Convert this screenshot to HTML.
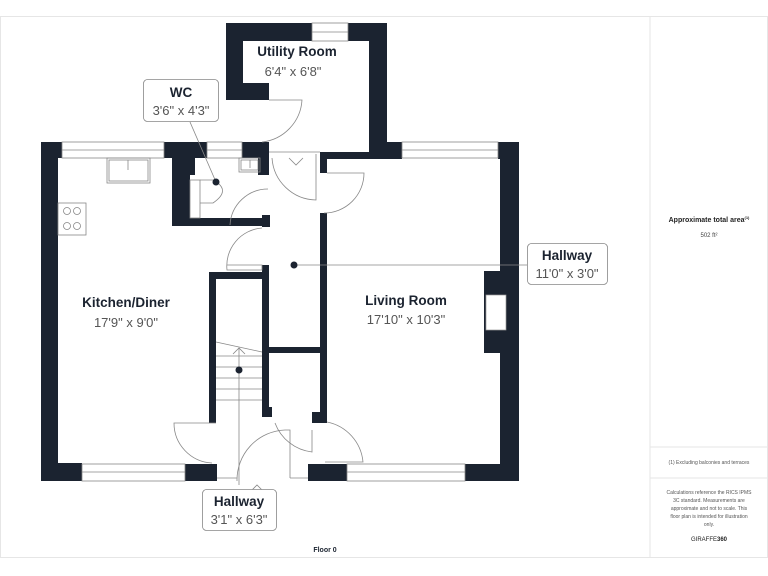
<!DOCTYPE html>
<html><head><meta charset="utf-8"><style>
html,body{margin:0;padding:0;background:#fff;}
svg{display:block;font-family:"Liberation Sans",sans-serif;}
</style></head><body>
<svg width="768" height="576" viewBox="0 0 768 576" xmlns="http://www.w3.org/2000/svg">
<rect x="0" y="0" width="768" height="576" fill="#fff"/>
<rect x="0.5" y="16.5" width="767" height="541" fill="none" stroke="#e6e6e6"/>
<line x1="650" y1="16" x2="650" y2="558" stroke="#e6e6e6"/>
<line x1="650" y1="447" x2="768" y2="447" stroke="#e6e6e6"/>
<line x1="650" y1="478" x2="768" y2="478" stroke="#e6e6e6"/>
<text x="709" y="222" font-size="7" font-weight="bold" text-anchor="middle" fill="#222">Approximate total area<tspan font-size="4" dy="-3">(1)</tspan></text>
<text x="709" y="237" font-size="6" text-anchor="middle" fill="#444">502 ft²</text>
<text x="709" y="464" font-size="5" text-anchor="middle" fill="#555">(1) Excluding balconies and terraces</text>
<g font-size="5" text-anchor="middle" fill="#555">
<text x="709" y="494">Calculations reference the RICS IPMS</text>
<text x="709" y="502">3C standard. Measurements are</text>
<text x="709" y="510">approximate and not to scale. This</text>
<text x="709" y="518">floor plan is intended for illustration</text>
<text x="709" y="526">only.</text>
</g>
<text x="709" y="541" font-size="6" text-anchor="middle" fill="#222">GIRAFFE<tspan font-weight="bold">360</tspan></text>

<g fill="#1b2330">
<!-- utility -->
<rect x="226" y="23" width="86" height="18"/>
<rect x="348" y="23" width="39" height="18"/>
<rect x="226" y="23" width="17" height="77"/>
<rect x="226" y="83" width="43" height="17"/>
<rect x="369" y="23" width="18" height="135"/>
<!-- kitchen -->
<rect x="41" y="142" width="21" height="16"/>
<rect x="41" y="142" width="17" height="339"/>
<rect x="41" y="463" width="41" height="18"/>
<rect x="164" y="142" width="43" height="16"/>
<rect x="172" y="142" width="23" height="33"/>
<rect x="172" y="142" width="18" height="84"/>
<rect x="172" y="218" width="98" height="8"/>
<rect x="262" y="215" width="8" height="12"/>
<rect x="242" y="142" width="27" height="16"/>
<rect x="258" y="142" width="11" height="33"/>
<!-- living top -->
<rect x="320" y="152" width="67" height="7"/>
<rect x="369" y="142" width="33" height="17"/>
<rect x="320" y="152" width="7" height="21"/>
<rect x="498" y="142" width="21" height="17"/>
<rect x="500" y="142" width="19" height="339"/>
<rect x="484" y="271" width="18" height="82"/>
<!-- hall -->
<rect x="320" y="213" width="7" height="210"/>
<rect x="262" y="265" width="7" height="152"/>
<rect x="262" y="407" width="10" height="10"/>
<rect x="312" y="412" width="15" height="11"/>
<rect x="262" y="347" width="65" height="6"/>
<rect x="209" y="272" width="7" height="151"/>
<rect x="209" y="272" width="60" height="7"/>
<!-- bottom -->
<rect x="185" y="464" width="32" height="17"/>
<rect x="308" y="464" width="39" height="17"/>
<rect x="465" y="464" width="54" height="17"/>
</g>
<rect x="486" y="295" width="20" height="35" fill="#fff" stroke="#999" stroke-width="0.7"/>

<g fill="none" stroke="#888" stroke-width="0.8">
<!-- windows -->
<rect x="312" y="23" width="36" height="18"/><line x1="312" y1="32" x2="348" y2="32"/>
<rect x="62" y="142" width="102" height="16"/><line x1="62" y1="150" x2="164" y2="150"/>
<rect x="207" y="142" width="35" height="16"/><line x1="207" y1="150" x2="242" y2="150"/>
<rect x="402" y="142" width="96" height="16"/><line x1="402" y1="150" x2="498" y2="150"/>
<rect x="82" y="464" width="103" height="17"/><line x1="82" y1="472" x2="185" y2="472"/>
<rect x="347" y="464" width="118" height="17"/><line x1="347" y1="472" x2="465" y2="472"/>
<line x1="269" y1="152" x2="320" y2="152"/>
<!-- furniture -->
<rect x="107" y="158" width="43" height="25"/><rect x="109" y="160" width="39" height="21"/><line x1="128" y1="160" x2="128" y2="170"/>
<rect x="58" y="203" width="28" height="32"/>
<circle cx="67" cy="211" r="3.5"/><circle cx="77" cy="211" r="3.5"/><circle cx="67" cy="226" r="3.5"/><circle cx="77" cy="226" r="3.5"/>
<rect x="239" y="158" width="21" height="14"/><rect x="241" y="160" width="17" height="10"/><line x1="250" y1="160" x2="250" y2="168"/>
<rect x="190" y="180" width="10" height="38"/><path d="M200 180 H213 Q232 190 213 203 H200"/>
<!-- doors -->
<path d="M269 100 H302 A45 45 0 0 1 262 142"/>
<path d="M272 158 A45 45 0 0 0 316 200 V154"/>
<path d="M327 173 H364 A40 40 0 0 1 324 213"/>
<path d="M230 225 A38 38 0 0 1 268 189"/>
<path d="M227 265 H262 V270 H227 A38 38 0 0 1 262 228"/>
<path d="M216 423 H174 A40 40 0 0 0 212 463"/>
<path d="M237 481 A50 50 0 0 1 285 430 H290 V478"/>
<path d="M275 423 A45 45 0 0 0 312 452 V430"/>
<path d="M327 422 A45 45 0 0 1 363 462 H325"/>
<line x1="290" y1="478" x2="308" y2="478"/><line x1="217" y1="478" x2="237" y2="478"/>
<!-- stairs -->
<line x1="216" y1="342" x2="262" y2="352"/>
<line x1="216" y1="356" x2="262" y2="356"/><line x1="216" y1="367" x2="262" y2="367"/>
<line x1="216" y1="378" x2="262" y2="378"/><line x1="216" y1="389" x2="262" y2="389"/>
<line x1="216" y1="400" x2="262" y2="400"/>
<line x1="239" y1="348" x2="239" y2="485"/>
<path d="M233 354 L239 348 L245 354"/>
<path d="M250 492 L257 485 L264 492"/>
<path d="M289 158 L296 165 L303 158"/>
<!-- leaders -->
<line x1="294" y1="265" x2="527" y2="265"/>
<line x1="190" y1="122" x2="216" y2="182"/>
</g>
<circle cx="216" cy="182" r="3.5" fill="#1b2330"/>
<circle cx="294" cy="265" r="3.5" fill="#1b2330"/>
<circle cx="239" cy="370" r="3.5" fill="#1b2330"/>

<g fill="#1b2330" font-size="14">
<text x="297" y="56" font-weight="bold" text-anchor="middle" font-size="13.5">Utility Room</text>
<text x="293" y="76" text-anchor="middle" fill="#555" font-size="13">6'4" x 6'8"</text>
<text x="126" y="307" font-weight="bold" text-anchor="middle" font-size="13.5">Kitchen/Diner</text>
<text x="126" y="327" text-anchor="middle" fill="#555" font-size="13">17'9" x 9'0"</text>
<text x="406" y="305" font-weight="bold" text-anchor="middle" font-size="13.5">Living Room</text>
<text x="406" y="324" text-anchor="middle" fill="#555" font-size="13">17'10" x 10'3"</text>
</g>
<g fill="#fff" stroke="#888" stroke-width="0.8">
<rect x="143.5" y="79.5" width="75" height="42" rx="4"/>
<rect x="527.5" y="243.5" width="80" height="41" rx="4"/>
<rect x="202.5" y="489.5" width="74" height="41" rx="4"/>
</g>
<g fill="#1b2330" text-anchor="middle">
<text x="181" y="97" font-weight="bold" font-size="13.5">WC</text>
<text x="181" y="115" fill="#555" font-size="13">3'6" x 4'3"</text>
<text x="567" y="260" font-weight="bold" font-size="13.5">Hallway</text>
<text x="567" y="278" fill="#555" font-size="13">11'0" x 3'0"</text>
<text x="239" y="506" font-weight="bold" font-size="13.5">Hallway</text>
<text x="239" y="524" fill="#555" font-size="13">3'1" x 6'3"</text>
<text x="325" y="552" font-weight="bold" font-size="7">Floor 0</text>
</g>
</svg>
</body></html>
